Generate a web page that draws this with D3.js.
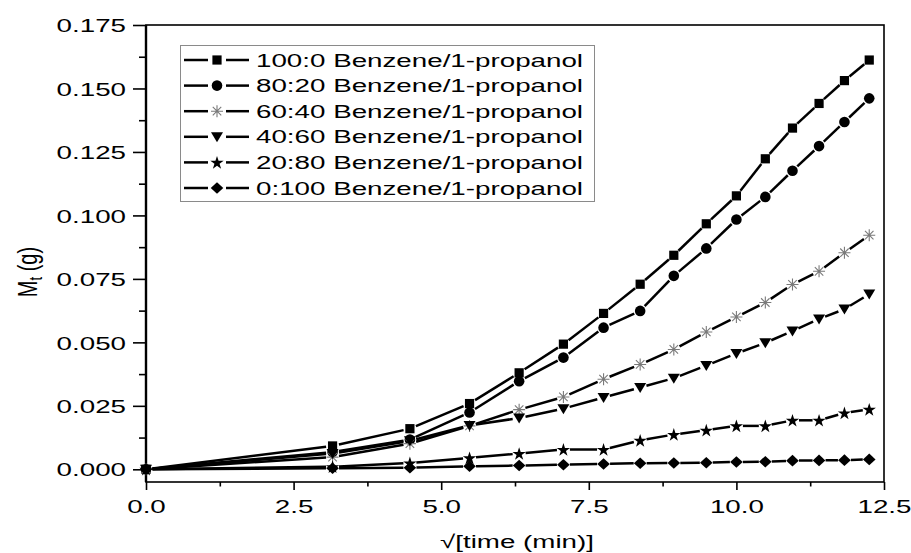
<!DOCTYPE html>
<html>
<head>
<meta charset="utf-8">
<script src="https://cdn.jsdelivr.net/npm/d3@7"></script>
<style>
  html, body { margin: 0; padding: 0; background: #fff; }
  svg { display: block; font-family: "Liberation Sans", Arial, sans-serif; }
</style>
</head>
<body>
<svg id="chart" width="911" height="553"></svg>
<script>
// sqrt(time) sampling points, min^0.5
const sqrtTime = [0, 3.16, 4.47, 5.48, 6.32, 7.07, 7.75, 8.37, 8.94, 9.49, 10.0, 10.49, 10.95, 11.40, 11.83, 12.25];

// Mass uptake M_t (g) for each benzene/1-propanol mixture
const ratio100_0 = [0, 0.0092, 0.0160, 0.0259, 0.0380, 0.0493, 0.0614, 0.0729, 0.0843, 0.0967, 0.1077, 0.1223, 0.1344, 0.1441, 0.1531, 0.1612];
const ratio80_20 = [0, 0.0068, 0.0117, 0.0224, 0.0347, 0.0440, 0.0558, 0.0624, 0.0762, 0.0870, 0.0984, 0.1073, 0.1176, 0.1273, 0.1368, 0.1461];
const ratio60_40 = [0, 0.0048, 0.0101, 0.0171, 0.0235, 0.0285, 0.0355, 0.0413, 0.0472, 0.0541, 0.0600, 0.0657, 0.0728, 0.0780, 0.0853, 0.0922];
const ratio40_60 = [0, 0.0062, 0.0112, 0.0173, 0.0202, 0.0239, 0.0283, 0.0322, 0.0359, 0.0409, 0.0456, 0.0498, 0.0545, 0.0592, 0.0631, 0.0690];
const ratio20_80 = [0, 0.0010, 0.0025, 0.0045, 0.0062, 0.0078, 0.0078, 0.0114, 0.0137, 0.0154, 0.0171, 0.0171, 0.0193, 0.0193, 0.0222, 0.0236];
const ratio0_100 = [0, 0.0004, 0.0006, 0.0012, 0.0015, 0.0018, 0.0021, 0.0024, 0.0025, 0.0026, 0.0029, 0.0030, 0.0034, 0.0035, 0.0036, 0.0039];

const seriesNames = [
  "100:0 Benzene/1-propanol",
  "80:20 Benzene/1-propanol",
  "60:40 Benzene/1-propanol",
  "40:60 Benzene/1-propanol",
  "20:80 Benzene/1-propanol",
  "0:100 Benzene/1-propanol"
];
const seriesValues = [ratio100_0, ratio80_20, ratio60_40, ratio40_60, ratio20_80, ratio0_100];
const markerKinds = ["square", "circle", "asterisk", "triangleDown", "star", "diamond"];

const yTickValues = [0, 0.025, 0.05, 0.075, 0.1, 0.125, 0.15, 0.175];
const yMinorValues = [0.0125, 0.0375, 0.0625, 0.0875, 0.1125, 0.1375, 0.1625];
const xTickValues = [0, 2.5, 5, 7.5, 10, 12.5];
const xMinorValues = [1.25, 3.75, 6.25, 8.75, 11.25];

const svg = d3.select("#chart");
const plot = { left: 146, right: 884, top: 25, bottom: 482 };
const stretch = 1.5;   // wide lettering
const fontSize = 18.5;

const x = d3.scaleLinear().domain([0, 12.5]).range([plot.left, plot.right]);
const y = d3.scaleLinear().domain([-0.005, 0.175]).range([plot.bottom, plot.top]);

// frame
svg.append("rect")
  .attr("x", plot.left).attr("y", plot.top)
  .attr("width", plot.right - plot.left).attr("height", plot.bottom - plot.top)
  .attr("fill", "none").attr("stroke", "#000").attr("stroke-width", 1.6);
svg.append("line")
  .attr("x1", plot.left).attr("x2", plot.left)
  .attr("y1", plot.top).attr("y2", plot.bottom)
  .attr("stroke", "#000").attr("stroke-width", 2.4);

// y axis
const yAxis = svg.append("g").attr("transform", `translate(${plot.left},0)`)
  .call(d3.axisLeft(y).tickValues(yTickValues).tickSize(13).tickSizeOuter(0).tickFormat(d3.format(".3f")));
const yMinor = svg.append("g").attr("transform", `translate(${plot.left},0)`)
  .call(d3.axisLeft(y).tickValues(yMinorValues).tickSize(7).tickSizeOuter(0).tickFormat(""));

// x axis
const xAxis = svg.append("g").attr("transform", `translate(0,${plot.bottom})`)
  .call(d3.axisBottom(x).tickValues(xTickValues).tickSize(8).tickSizeOuter(0).tickFormat(d3.format(".1f")));
const xMinor = svg.append("g").attr("transform", `translate(0,${plot.bottom})`)
  .call(d3.axisBottom(x).tickValues(xMinorValues).tickSize(4.5).tickSizeOuter(0).tickFormat(""));

[yAxis, yMinor, xAxis, xMinor].forEach(g => {
  g.select(".domain").remove();
  g.selectAll("line").attr("stroke", "#000").attr("stroke-width", 1.6);
});

yAxis.selectAll("text")
  .attr("font-size", fontSize).attr("font-family", null).attr("fill", "#000")
  .attr("x", -20 / stretch).attr("dy", "0.36em")
  .attr("transform", `scale(${stretch},1)`);

xAxis.selectAll("text")
  .attr("font-size", fontSize).attr("font-family", null).attr("fill", "#000")
  .attr("y", 31).attr("dy", 0)
  .attr("transform", `scale(${stretch},1)`);

// axis titles
svg.append("text")
  .attr("transform", `translate(${(plot.left + plot.right) / 2 + 2},548) scale(${stretch},1)`)
  .attr("text-anchor", "middle").attr("font-size", fontSize)
  .text("√[time (min)]");

const yTitle = svg.append("text")
  .attr("transform", `translate(37,272) rotate(-90) scale(1,1.35)`)
  .attr("text-anchor", "middle").attr("font-size", 20);
yTitle.append("tspan").text("M");
yTitle.append("tspan").attr("font-size", 13).attr("dy", 4).text("t");
yTitle.append("tspan").attr("dy", -4).text(" (g)");

// marker drawing
function drawMarker(g, kind, cx, cy) {
  if (kind === "square") {
    g.append("rect").attr("x", cx - 4.6).attr("y", cy - 4.6).attr("width", 9.2).attr("height", 9.2).attr("fill", "#000");
  } else if (kind === "circle") {
    g.append("circle").attr("cx", cx).attr("cy", cy).attr("r", 5.3).attr("fill", "#000");
  } else if (kind === "triangleDown") {
    g.append("path").attr("d", `M${cx - 6},${cy - 4.5}L${cx + 6},${cy - 4.5}L${cx},${cy + 5.5}Z`).attr("fill", "#000");
  } else if (kind === "diamond") {
    g.append("path").attr("d", `M${cx},${cy - 5.8}L${cx + 6.3},${cy}L${cx},${cy + 5.8}L${cx - 6.3},${cy}Z`).attr("fill", "#000");
  } else if (kind === "star") {
    g.append("path")
      .attr("d", d3.symbol(d3.symbolStar, 55)())
      .attr("transform", `translate(${cx},${cy + 0.6})`)
      .attr("fill", "#000");
  } else if (kind === "asterisk") {
    const r = 6, d = r * 0.7071;
    g.append("path")
      .attr("d", `M${cx - r},${cy}L${cx + r},${cy}M${cx},${cy - r}L${cx},${cy + r}` +
                 `M${cx - d},${cy - d}L${cx + d},${cy + d}M${cx - d},${cy + d}L${cx + d},${cy - d}`)
      .attr("stroke", "#7a7a7a").attr("stroke-width", 1.1).attr("fill", "none");
  }
}

// connecting lines, broken around each marker
const gap = 6.5;
const lineLayer = svg.append("g");
const markerLayer = svg.append("g");
seriesValues.forEach((vals, si) => {
  const pts = vals.map((v, i) => [x(sqrtTime[i]), y(v)]);
  for (let i = 0; i < pts.length - 1; i++) {
    const [x1, y1] = pts[i], [x2, y2] = pts[i + 1];
    const len = Math.hypot(x2 - x1, y2 - y1);
    if (len <= 2 * gap) continue;
    const ux = (x2 - x1) / len, uy = (y2 - y1) / len;
    lineLayer.append("line")
      .attr("x1", x1 + ux * gap).attr("y1", y1 + uy * gap)
      .attr("x2", x2 - ux * gap).attr("y2", y2 - uy * gap)
      .attr("stroke", "#000").attr("stroke-width", 2.5);
  }
  pts.forEach(([px, py]) => drawMarker(markerLayer, markerKinds[si], px, py));
});

// legend
const legend = svg.append("g");
legend.append("rect")
  .attr("x", 180.5).attr("y", 45.5).attr("width", 414).attr("height", 156)
  .attr("fill", "#fff").attr("stroke", "#8a8a8a").attr("stroke-width", 1);
seriesNames.forEach((name, i) => {
  const cy = 60 + i * 25.6;
  legend.append("line").attr("x1", 184).attr("x2", 208).attr("y1", cy).attr("y2", cy)
    .attr("stroke", "#000").attr("stroke-width", 2.5);
  legend.append("line").attr("x1", 226).attr("x2", 249).attr("y1", cy).attr("y2", cy)
    .attr("stroke", "#000").attr("stroke-width", 2.5);
  drawMarker(legend, markerKinds[i], 217, cy);
  legend.append("text")
    .attr("transform", `translate(256,${cy + 6.6}) scale(${stretch},1)`)
    .attr("font-size", fontSize)
    .text(name);
});
</script>
</body>
</html>
